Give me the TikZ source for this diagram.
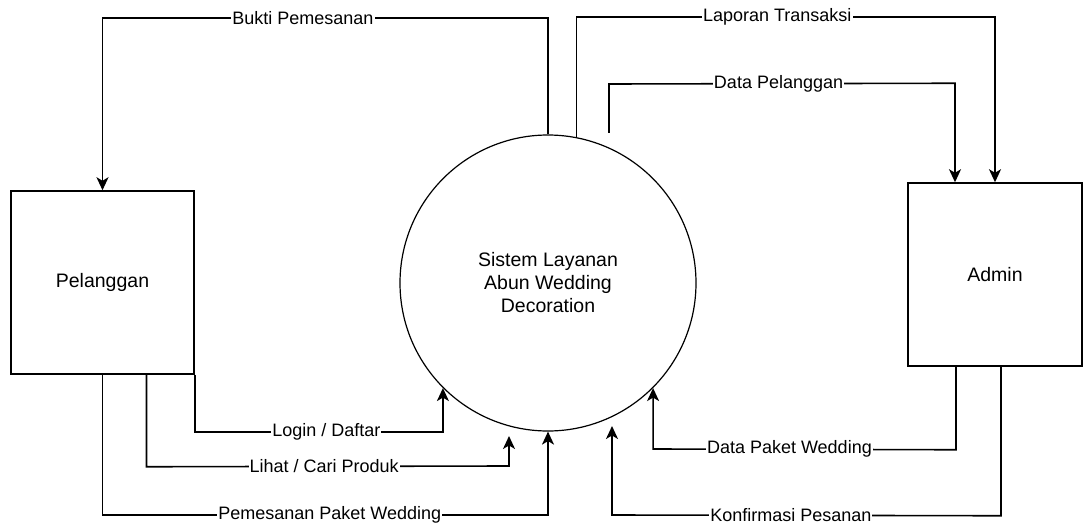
\documentclass[tikz,border=0pt]{standalone}
\usepackage{fontspec}
\setmainfont{Liberation Sans}
\usepackage{xcolor}
\usetikzlibrary{shapes.geometric, arrows.meta, calc}
\tikzstyle{entity} = [rectangle, minimum width=174pt, minimum height=183pt, text centered, draw=black, line width=1.5pt, font=\fontsize{19.5}{23}\selectfont]
\tikzstyle{process} = [circle, minimum size=296pt, inner sep=0pt, align=center, draw=black, line width=1.2pt, font=\fontsize{19.5}{23}\selectfont]
\tikzstyle{arrow} = [line width=1.6pt, -{Stealth[length=13pt, width=12pt, inset=3.5pt]}]
\tikzstyle{flowlabel} = [fill=white, inner sep=1pt, font=\fontsize{18}{22}\selectfont]

\begin{document}
\begin{tikzpicture}[x=1pt, y=-1pt]
\useasboundingbox (0,0) rectangle (1084,524);
\node (pelanggan) [entity, minimum width=183pt] at (102.5,282.5) {Pelanggan};
\node (sistem) [process] at (548,283) {Sistem Layanan\\Abun Wedding\\Decoration};
\node (admin) [entity] at (995,274.5) {Admin};

% loose ends that stop short of the circle
\coordinate (cariend) at (509,436);
\coordinate (konfend) at (612,426);
\coordinate (pelstart) at (609,133);

% flows at the top
\draw [arrow] (sistem.north) -- (548,18) -- node[flowlabel, pos=0.55] {Bukti Pemesanan} (pelanggan.north |- 0,18) -- (pelanggan.north);
\draw [arrow] (sistem.79) -- (sistem.79 |- 0,17) -- node[flowlabel, pos=0.48] {Laporan Transaksi} (admin.north |- 0,17) -- (admin.north);
\draw [arrow] (pelstart) -- (609,84) -- node[flowlabel, pos=0.49] {Data Pelanggan} ($(admin.north)+(-40,84-183)$) -- ($(admin.north)+(-40,0)$);

% flows from Pelanggan
\draw [arrow] (pelanggan.south east) -- (pelanggan.south east |- 0,432) -- node[flowlabel, pos=0.53] {Login / Daftar} (sistem.south west |- 0,432) -- (sistem.south west);
\draw [arrow] ($(pelanggan.south)+(44,0)$) -- ($(pelanggan.south)+(44,92)$) -- node[flowlabel, pos=0.49] {Lihat / Cari Produk} (cariend |- 0,466) -- (cariend);
\draw [arrow] (pelanggan.south) -- (pelanggan.south |- 0,515) -- node[flowlabel, pos=0.51] {Pemesanan Paket Wedding} (sistem.south |- 0,515) -- (sistem.south);

% flows from Admin
\draw [arrow] ($(admin.south)+(-39,0)$) -- ($(admin.south)+(-39,83)$) -- node[flowlabel, pos=0.55] {Data Paket Wedding} (sistem.south east |- 0,449) -- (sistem.south east);
\draw [arrow] ($(admin.south)+(6,0)$) -- ($(admin.south)+(6,149)$) -- node[flowlabel, pos=0.54] {Konfirmasi Pesanan} (konfend |- 0,515) -- (konfend);
\end{tikzpicture}
\end{document}
